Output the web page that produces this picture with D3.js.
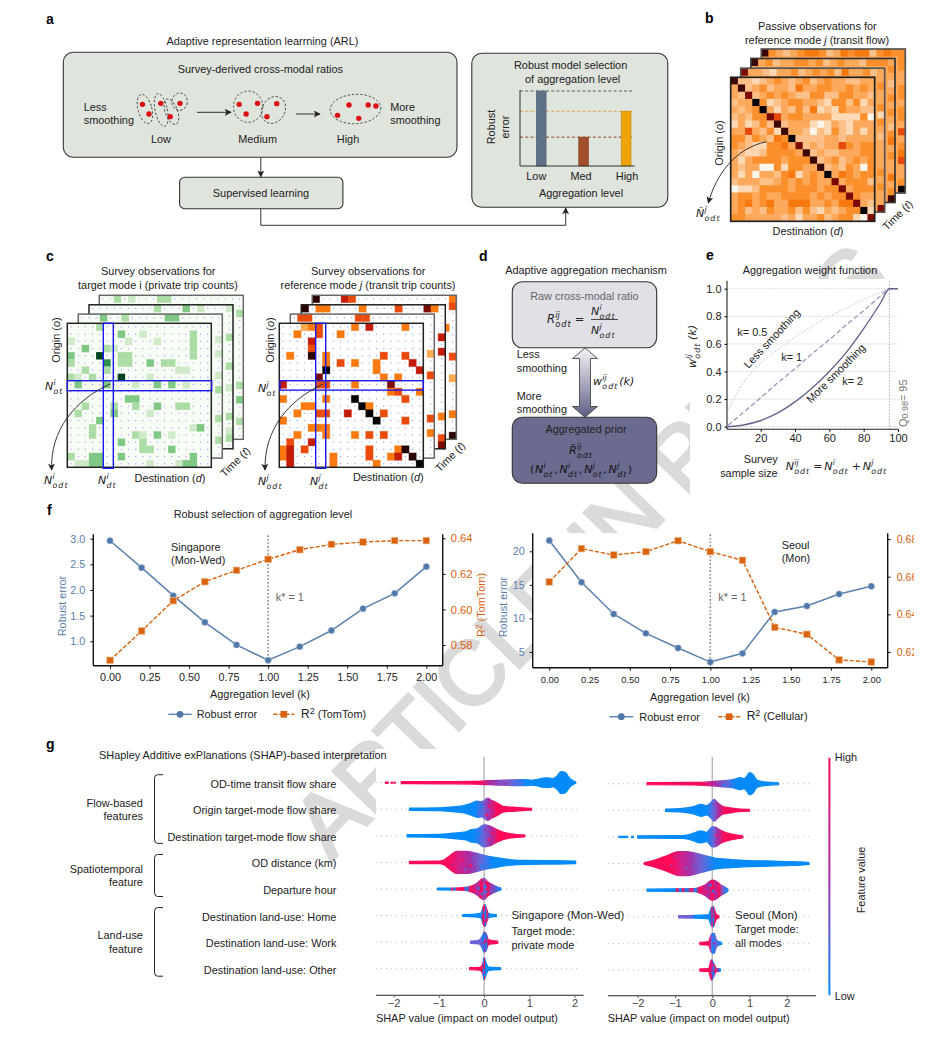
<!DOCTYPE html>
<html><head><meta charset="utf-8">
<script src="https://cdn.jsdelivr.net/npm/d3@7"></script>
<style>
html,body{margin:0;padding:0;background:#fff}
svg{display:block}
text{font-family:"Liberation Sans",Arial,sans-serif;font-size:10.9px;fill:#222}
.m{font-family:"DejaVu Sans",sans-serif;font-style:italic}
</style></head><body><div id="c"></div>
<script>
// ---------- DATA ----------
const arlBars=["Low","Med","High"], arlBarValues=[1,0.385,0.73], arlBarColors=["#5f7186","#a04f2a","#f0a30a"];
const arlStages=["Low","Medium","High"];
const arlDots=[[251,313],[296,310],[343,310],[267,342],[319,350],[488,313],[533,310],[580,311],[505,342],[556,350],[757,315],[804,315],[823,318],[729,346],[781,355]];
const arlHulls=[[257,327,17,45,-15],[297,330,15,50,-12],[342,305,19,26,10],[322,335,15,40,-20],[510,320,36,47,0],[572,330,28,42,30],[773,327,62,44,-3]];
const passiveFront=["82212343234234332233","38234233253344334343","32723434322442244332","23394123443321442413","32349313242512143322","23244763443333111140","13124282333101321333","33632418332021421313","44243254922223323333","43211445372323364344","32112444438232233344","31344443444823423434","32330041443382324304","31303324513439354344","23332234343433734442","01124444344434473444","34434334444343447433","34534533555334355732","34232433424213234491","44333332313342344107"];
const passiveTop=[["73321334234342533424","33433414323333434337"],["83423344342343324445","34323434324534335348"],["84323455423545524544","44433443443634563349"]];
const surveyFront=[[0,4,2],[1,7,3],[1,10,1],[1,17,2],[2,0,1],[2,8,1],[2,12,1],[2,17,2],[3,2,3],[3,5,2],[3,6,1],[3,17,2],[4,0,3],[4,4,5],[4,7,2],[4,8,2],[4,17,2],[5,0,2],[5,5,4],[5,7,2],[5,8,2],[5,11,3],[5,13,2],[5,14,2],[6,2,2],[6,5,2],[6,15,1],[6,16,1],[7,0,2],[7,1,1],[7,3,2],[7,7,5],[7,11,1],[8,1,3],[8,5,3],[8,9,1],[8,12,3],[8,14,3],[8,16,1],[10,8,3],[10,9,3],[11,2,2],[11,6,2],[11,9,2],[11,12,3],[11,15,2],[11,16,2],[12,1,2],[12,6,3],[12,11,1],[13,4,3],[14,3,2],[14,17,1],[14,18,3],[15,3,2],[15,9,2],[15,10,1],[15,12,3],[15,14,1],[16,7,3],[16,10,2],[17,10,2],[17,11,2],[17,14,3],[18,0,2],[18,3,3],[18,4,3],[18,7,3],[18,17,3],[19,1,1],[19,2,1],[19,3,3],[19,4,3],[19,11,1],[19,15,1],[19,16,3],[19,17,3]];
const surveyBack=[[[0,3,3],[0,6,2],[0,12,3],[0,13,3],[3,19,1],[5,19,1],[8,19,1],[10,19,2],[14,19,2],[17,19,2]],[[0,9,2],[0,13,3],[0,15,1],[0,19,1],[4,19,2],[8,19,2],[11,19,1],[15,19,2],[17,19,1],[18,19,2]],[[0,2,2],[0,4,1],[0,8,2],[0,9,2],[2,19,2],[12,19,2],[14,19,3],[17,19,2]]];
const transitFront=[[0,3,1],[0,4,2],[0,5,3],[0,10,2],[0,12,4],[0,17,2],[1,2,2],[1,5,3],[1,8,2],[2,4,4],[3,4,3],[4,1,2],[4,4,6],[4,6,2],[4,14,3],[4,17,3],[5,6,2],[5,8,3],[5,10,2],[5,13,2],[5,18,4],[6,6,7],[6,13,2],[6,19,4],[7,5,5],[7,14,2],[7,16,2],[8,0,4],[8,5,3],[8,6,3],[8,10,2],[8,15,5],[9,15,2],[9,16,3],[9,19,2],[10,0,2],[10,6,2],[10,10,7],[10,17,3],[11,3,2],[11,4,2],[11,11,7],[11,12,2],[12,2,2],[12,5,3],[12,6,3],[12,9,4],[12,12,7],[12,14,3],[13,0,2],[13,13,7],[13,17,3],[14,4,2],[14,5,2],[14,6,2],[15,2,2],[15,6,2],[15,10,2],[15,12,3],[15,14,3],[16,1,3],[16,4,4],[17,0,2],[17,1,4],[17,3,3],[17,12,3],[17,16,2],[17,17,6],[18,0,2],[18,1,4],[18,7,2],[18,12,3],[18,15,2],[18,16,4],[18,18,6],[19,1,4],[19,7,2],[19,13,2],[19,19,7]];
const transitBack=[[[0,1,3],[0,2,3],[0,9,3],[0,10,3],[5,19,1],[8,19,3],[14,19,3],[16,19,2]],[[0,0,6],[0,2,2],[0,3,2],[0,8,2],[0,13,3],[0,17,5],[0,18,2],[4,19,4],[6,19,4],[15,19,2],[18,19,3],[19,19,5]],[[0,0,6],[0,4,4],[0,5,3],[0,19,2],[1,19,3],[4,18,2],[8,19,3],[11,19,1],[16,19,2],[19,19,6]]];
const weightN=[1,10,20,30,40,50,60,70,80,90,95,100];
const weightK2=[0,0.012,0.045,0.10,0.18,0.28,0.40,0.54,0.71,0.90,1,1];
const weightK1=[0.01,0.105,0.21,0.32,0.42,0.53,0.63,0.74,0.84,0.95,1,1];
const weightK05=[0.12,0.32,0.46,0.56,0.65,0.73,0.80,0.86,0.92,0.975,1,1];
const aggLevels=[0,0.2,0.4,0.6,0.8,1,1.2,1.4,1.6,1.8,2];
const sgError=[2.96,2.435,1.89,1.37,0.93,0.63,0.896,1.21,1.636,1.935,2.455];
const sgR2=[0.5714,0.5879,0.6049,0.6156,0.622,0.6282,0.6336,0.6366,0.6379,0.6387,0.6387];
const seError=[21.6,15.4,10.66,7.78,5.6,3.5,4.8,10.96,11.85,13.64,14.8];
const seR2=[0.6572,0.6749,0.6715,0.6733,0.6791,0.6733,0.6687,0.6331,0.6294,0.6158,0.6147];
const shapFeatures=["OD-time transit flow share","Origin target-mode flow share","Destination target-mode flow share","OD distance (km)","Departure hour","Destination land-use: Home","Destination land-use: Work","Destination land-use: Other"];
const B="#058afa",P="#ff0a58",M="#a52fa6",V="#6e63d6";
const sgProfiles=[
[[-1.83,1],[-1,1.1],[-.2,1.4],[0,1.8],[.3,2.4],[.6,2.8],[.9,3],[1.05,2.4],[1.2,3.4],[1.3,4.5],[1.42,4.8],[1.52,4],[1.62,7],[1.7,11],[1.8,10],[1.88,5],[1.97,1.8],[2.02,.8]],
[[-1.65,1.1],[-1,1.4],[-.7,2.4],[-.45,3.6],[-.3,5.6],[-.15,8],[-.05,7.5],[.08,11],[.16,9],[.3,6],[.42,2.8],[.7,1.8],[1.05,.9]],
[[-1.7,1.1],[-1,1.5],[-.7,2.6],[-.4,4],[-.3,6],[-.15,7],[0,11],[.12,10],[.25,7],[.4,4],[.6,2],[.9,.9]],
[[-1.65,1.1],[-1,1.3],[-.88,2.6],[-.78,6],[-.6,11],[-.4,11],[-.2,9.5],[0,7],[.3,4.6],[.6,2.6],[1,1.9],[1.6,1.7],[2.02,1.3]],
[[-1.03,.9],[-.5,1.2],[-.28,2.8],[-.15,6],[-.08,9],[0,10.5],[.08,7],[.2,4],[.3,2],[.37,.8]],
[[-.47,.9],[-.2,1.4],[-.07,2.4],[-.02,9],[.02,11],[.06,6],[.1,2],[.27,.9]],
[[-.3,1.1],[-.12,1.8],[-.04,6],[0,10],[.05,8],[.1,2.2],[.3,1.1]],
[[-.32,1],[-.1,1.3],[-.03,5],[0,11],[.05,5],[.1,1.6],[.36,1]]];
const sgColours=[
[[-1.83,P],[-.1,P],[.15,M],[.6,V],[.95,B],[2,B]],
[[-1.65,B],[-.2,B],[0,V],[.1,M],[.28,P],[1.05,P]],
[[-1.7,B],[-.22,B],[0,V],[.15,M],[.32,P],[.9,P]],
[[-1.65,P],[-.78,P],[-.55,"#d4208a"],[-.3,M],[-.1,V],[.2,B],[2,B]],
[[-1.03,B],[-.75,B],[-.7,P],[-.65,B],[-.6,P],[-.45,P],[-.4,B],[-.3,P],[-.15,M],[-.05,P],[0,V],[.08,P],[.14,M],[.37,B]],
[[-.47,B],[-.06,B],[-.01,P],[.01,M],[.03,B],[.06,P],[.12,B],[.27,B]],
[[-.3,V],[-.07,V],[-.03,B],[.02,M],[.05,B],[.09,P],[.3,P]],
[[-.32,P],[-.06,P],[-.01,B],[.01,P],[.03,B],[.1,B],[.36,B]]];
const sgOutliers=[[0,-2.17],[0,-2.13],[0,-2.04],[0,-1.98],[3,-1.62]];
const sgSpeckle=[[0,.35,-1,V],[0,.5,1,M],[0,.8,1,V],[0,1.35,-3,B],[0,1.7,5,B],[1,-.12,4,V],[1,.02,-5,M],[1,.06,6,P],[1,.12,-3,P],[1,.2,3,M],[1,-.05,-3,B],[1,.1,1,V],[2,-.05,5,V],[2,.03,-6,M],[2,.1,4,P],[2,.18,-3,P],[2,.08,-1,V],[2,-.1,-2,B],[3,-.65,-6,P],[3,-.55,5,M],[3,-.48,-3,P],[3,-.42,7,V],[3,-.35,-7,M],[3,-.3,3,P],[3,-.25,-4,V],[3,-.2,6,M],[3,-.12,-2,V],[3,-.05,4,B],[3,-.7,2,M],[4,-.2,2,P],[4,-.1,-3,P],[4,-.05,5,B],[4,.02,-6,P],[4,.05,3,B],[4,.1,-2,P],[4,.15,2,V],[4,-.12,-1,B],[4,0,7,M],[4,-.02,-8,M],[4,-.05,0,P],[4,.03,-2,B],[5,0,-7,P],[5,.01,-3,B],[5,.02,5,P],[5,.03,1,B],[5,-.03,1,P],[6,0,-6,B],[6,-.02,1,M],[6,.03,4,B],[6,.05,-1,P],[7,0,-5,P],[7,.01,1,B],[7,.02,6,B],[7,-.02,-1,P]];
const seProfiles=[
[[-1.75,1],[-.5,1.2],[-.1,1.8],[.2,2.8],[.55,4],[.75,6],[.85,5],[.92,7],[1,11],[1.1,9],[1.2,3.6],[1.4,1.8],[1.78,.9]],
[[-1.25,1.1],[-.8,1.8],[-.5,3.6],[-.3,6],[-.15,4.6],[0,9],[.05,11],[.15,7.5],[.3,3.6],[.5,2.4],[.7,1.4],[1,.9]],
[[-2,1.1],[-.8,1.4],[-.6,2.6],[-.3,6],[-.15,4.6],[0,10],[.06,10],[.2,7],[.38,4],[.5,3],[.82,1]],
[[-1.82,.9],[-1.5,4],[-1.2,8],[-.9,12],[-.7,12],[-.4,10],[-.2,8],[0,6],[.5,4],[1,3],[1.5,2.6],[2,2],[2.35,1.6],[2.6,.9]],
[[-1.75,1],[-.5,1.4],[-.2,5],[0,10],[.1,9],[.2,6],[.35,2.8],[.42,.9]],
[[-.9,1],[-.5,1.3],[-.1,2],[-.02,9],[.03,10],[.1,3],[.18,.9]],
[[-.33,1.1],[-.1,1.8],[-.02,9],[.05,10],[.12,3],[.25,1]],
[[-.33,1],[-.1,1.4],[-.02,10],[.05,6],[.1,2],[.22,1]]];
const seColours=[
[[-1.75,P],[-.3,P],[.1,M],[.35,V],[.65,B],[1.78,B]],
[[-1.25,B],[-.15,B],[.05,V],[.15,M],[.35,P],[1,P]],
[[-2,B],[-.15,B],[.05,V],[.15,M],[.32,P],[.82,P]],
[[-1.82,P],[-1.1,P],[-.85,"#d4208a"],[-.6,M],[-.3,V],[.1,B],[2.6,B]],
[[-1.75,B],[-1,B],[-.95,P],[-.85,B],[-.78,P],[-.7,B],[-.55,P],[-.45,B],[-.35,P],[-.1,M],[0,P],[.1,M],[.17,P],[.3,V],[.42,B]],
[[-.9,V],[-.55,V],[-.45,B],[-.05,B],[0,P],[.03,B],[.07,P],[.18,P]],
[[-.33,P],[-.08,P],[-.02,V],[.04,B],[.08,V],[.25,B]],
[[-.33,P],[-.05,P],[0,M],[.04,B],[.09,P],[.22,B]]];
const seSegments=[[2,-2.52,-2.26],[2,-2.18,-2.1]];
const seSpeckle=[[0,.3,1,B],[0,.55,-2,B],[1,0,5,V],[1,.05,-6,M],[1,.1,3,V],[2,0,-6,V],[2,.08,5,M],[2,.12,-2,P],[3,-1,-7,M],[3,-.9,7,P],[3,-.8,-3,M],[3,-.7,5,V],[3,-.6,-6,M],[3,-.5,2,V],[3,-.4,-4,V],[3,-.3,4,V],[3,-1.1,2,M],[4,-.15,2,P],[4,-.05,-5,B],[4,0,6,P],[4,.05,-3,P],[4,.1,3,M],[4,.02,1,B],[4,0,-8,P],[4,.15,-1,P],[5,0,-5,P],[5,.02,3,B],[5,.04,-1,M],[6,0,-6,V],[6,.02,5,B],[6,.05,0,M],[7,.02,-5,P],[7,0,3,B],[7,.03,1,M]];
const bracketRows=[[0,2,["Flow-based","features"]],[3,4,["Spatiotemporal","feature"]],[5,7,["Land-use","feature"]]];

// ---------- SETUP ----------
const W=952,H=1038;
const svg=d3.select("#c").append("svg").attr("width",W).attr("height",H).attr("viewBox",`0 0 ${W} ${H}`);
const defs=svg.append("defs");
function marker(id,col){defs.append("marker").attr("id",id).attr("viewBox","0 0 10 10").attr("refX",9).attr("refY",5).attr("markerWidth",7).attr("markerHeight",7).attr("markerUnits","userSpaceOnUse").attr("orient","auto").append("path").attr("d","M0,0L10,5L0,10L2.5,5Z").attr("fill",col);}
marker("ah","#222");marker("ahg","#444");
const T=(g,x,y,s,o={})=>{const t=(g||svg).append("text").attr("x",x).attr("y",y).text(s).attr("dominant-baseline","central");
 if(o.a)t.attr("text-anchor",o.a);if(o.fs)t.style("font-size",o.fs+"px");if(o.fill)t.style("fill",o.fill);if(o.w)t.style("font-weight",o.w);if(o.rot!=null)t.attr("transform",`rotate(${o.rot} ${x} ${y})`);return t;};
// watermark (drawn first, beneath everything), with white plot backings above it
svg.append("text").attr("transform","translate(331,862) rotate(-45.8)").text("ARTICLE IN PRESS").style("font-size","90px").style("letter-spacing","-1px").style("fill","#dadada").style("stroke","#dadada").style("stroke-width","3px");
[[93.3,534.3,349.4,131.4],[532.7,533.3,355,134.4],[690,279,220,215],[376,749,210,246],[600,749,230,250]].forEach(r=>svg.append("rect").attr("x",r[0]).attr("y",r[1]).attr("width",r[2]).attr("height",r[3]).attr("fill","#fff"));

// math: base with stacked sup/sub; returns the right end x
function nm(g,x,y,base,sup,sub,fs=11,fill="#222",rot){
 const G=g.append("g").attr("transform",rot!=null?`rotate(${rot} ${x} ${y})`:null);
 const b=G.append("text").attr("class","m").attr("x",x).attr("y",y).style("font-size",fs+"px").style("fill",fill).text(base);
 const w=b.node().getComputedTextLength();let r=x+w;
 if(sup){const s=G.append("text").attr("class","m").attr("x",x+w+.3).attr("y",y-fs*.42).style("font-size",fs*.72+"px").style("fill",fill).text(sup);r=Math.max(r,x+w+.3+s.node().getComputedTextLength());}
 if(sub){const s=G.append("text").attr("class","m").attr("x",x+w+.3).attr("y",y+fs*.32).style("font-size",fs*.72+"px").style("letter-spacing","1px").style("fill",fill).text(sub);r=Math.max(r,x+w+.3+s.node().getComputedTextLength());}
 return r;
}
const panelLabels=[["a",46,19],["b",705,18],["c",46,256],["d",479,256],["e",706,255],["f",47,510],["g",46,744]];
panelLabels.forEach(d=>T(null,d[1],d[2],d[0],{fs:14,w:"bold",fill:"#000"}));

// ---------- PANEL A ----------
const boxFill="#dfe4dc",boxStroke="#333";
const a=svg.append("g");
const rb=(g,x0,y0,x1,y1,r,fill,st=boxStroke,sw=1.1)=>g.append("rect").attr("x",x0).attr("y",y0).attr("width",x1-x0).attr("height",y1-y0).attr("rx",r).attr("fill",fill).attr("stroke",st).attr("stroke-width",sw);
rb(a,63.3,52.3,457,157.3,10,boxFill);rb(a,471.8,53.3,667.8,207.3,10,boxFill);rb(a,179.6,177.3,342.9,208.7,5,boxFill);
T(a,262.4,41,"Adaptive representation learrning (ARL)",{a:"middle"});
T(a,260.4,69,"Survey-derived cross-modal ratios",{a:"middle"});
T(a,83.7,107,"Less");T(a,83.7,120,"smoothing");T(a,390.2,107,"More");T(a,390.2,120,"smoothing");
const stageX=[161,257.6,348];
arlStages.forEach((s,i)=>T(a,stageX[i],139,s,{a:"middle"}));
T(a,261,193,"Supervised learning",{a:"middle"});
const zx=v=>v/2.45+40,zy=v=>v/3;
a.selectAll("ellipse.h").data(arlHulls).join("ellipse").attr("cx",d=>zx(d[0])).attr("cy",d=>zy(d[1])).attr("rx",d=>d[2]/2.45).attr("ry",d=>d[3]/3).attr("transform",d=>`rotate(${d[4]} ${zx(d[0])} ${zy(d[1])})`).attr("fill","none").attr("stroke","#333").attr("stroke-width",.8).attr("stroke-dasharray","2.4 1.8");
a.selectAll("circle").data(arlDots).join("circle").attr("cx",d=>zx(d[0])).attr("cy",d=>zy(d[1])).attr("r",2.7).attr("fill","#dd0d14");
[[197,112.3,231,112.3],[296,114,320,114],[260.8,157.3,260.8,176.8]].forEach(d=>a.append("line").attr("x1",d[0]).attr("y1",d[1]).attr("x2",d[2]).attr("y2",d[3]).attr("stroke","#333").attr("stroke-width",1).attr("marker-end","url(#ah)"));
a.append("path").attr("d","M260.8,208.7V225.3H565.7V208").attr("fill","none").attr("stroke","#333").attr("stroke-width",1).attr("marker-end","url(#ah)");
const barX=d3.scalePoint(arlBars,[536.3,621.2]),barY=d3.scaleLinear([0,1],[166,91]);
arlBars.forEach((b,i)=>{a.append("line").attr("x1",520).attr("x2",633).attr("y1",barY(arlBarValues[i])).attr("y2",barY(arlBarValues[i])).attr("stroke",["#4e5f73","#8c4a2a","#dfa050"][i]).attr("stroke-width",1).attr("stroke-dasharray","3 2.2");});
a.selectAll("rect.b").data(arlBars).join("rect").attr("class","b").attr("x",d=>barX(d)).attr("width",9.8).attr("y",(d,i)=>barY(arlBarValues[i])).attr("height",(d,i)=>166-barY(arlBarValues[i])).attr("fill",(d,i)=>arlBarColors[i]).attr("stroke",(d,i)=>d3.color(arlBarColors[i]).darker(.5)).attr("stroke-width",.6);
a.append("path").attr("d","M520,90V166H634.7").attr("fill","none").attr("stroke","#333").attr("stroke-width",1);
arlBars.forEach((b,i)=>T(a,[536.3,581,627][i],176,b,{a:"middle"}));
T(a,570.6,65,"Robust model selection",{a:"middle"});T(a,572.6,79,"of aggregation level",{a:"middle"});
T(a,581,193,"Aggregation level",{a:"middle"});
T(a,491,127,"Robust",{a:"middle",rot:-90});T(a,505,127,"error",{a:"middle",rot:-90});

// ---------- GRIDS ----------
const N=20,S=144;
const hm=["#fff6ec","#fdd9b6","#fdc088","#fca95c","#fb8f2c","#f7780e","#e8480c","#7a0a00","#3c0400","#050000"];
const tc=[null,"#fdaa50","#fb7a10","#ea4a0a","#c41a08","#7a0c00","#2a0300","#000"];
const sc=[null,"#cfeac8","#acdca6","#7fc884","#2b8f4c","#00441b"];
function frame(g,x,y,st,sw){g.append("rect").attr("x",x).attr("y",y).attr("width",S).attr("height",S).attr("fill","none").attr("stroke",st).attr("stroke-width",sw);}
function passive(x0,y0,levels,st){
 const g=svg.append("g"),bx=d3.scaleBand(d3.range(N),[x0,x0+S]),by=d3.scaleBand(d3.range(N),[y0,y0+S]);
 g.append("rect").attr("x",x0).attr("y",y0).attr("width",S).attr("height",S).attr("fill",hm[3]);
 g.selectAll("rect.c").data(levels).join("rect").attr("class","c").attr("x",d=>bx(d[1])).attr("y",d=>by(d[0])).attr("width",bx.bandwidth()+.3).attr("height",by.bandwidth()+.3).attr("fill",d=>hm[d[2]]);
 frame(g,x0,y0,st,1.7);
}
const pBack=[[740.7,68.2],[751,58.5],[761.3,49]];
[2,1,0].forEach(i=>{const [tr,rc]=passiveTop[i];const lv=[...tr].map((v,c)=>[0,c,+v]).concat([...rc].map((v,r)=>[r,19,+v]));passive(pBack[i][0],pBack[i][1],lv,i==1?"#333":"#555");});
passive(730.7,77.3,passiveFront.flatMap((s,r)=>[...s].map((v,c)=>[r,c,+v])),"#222");
T(null,817.3,26,"Passive observations for",{a:"middle"});
const bt=T(null,817,40,"",{a:"middle"});bt.append("tspan").text("reference mode ");bt.append("tspan").style("font-style","italic").text("j");bt.append("tspan").text(" (transit flow)");
const axisT=(x,y,pre,it,post,rot)=>{const t=T(null,x,y,"",{a:"middle",rot});t.append("tspan").text(pre);t.append("tspan").style("font-style","italic").text(it);t.append("tspan").text(post);};
axisT(718.7,143,"Origin (","o",")",-90);axisT(808,231,"Destination (","d",")");axisT(897.3,215,"Time (","t",")",-45);
svg.append("path").attr("d","M766.7,141.7C735,148 716,175 708.3,203").attr("fill","none").attr("stroke","#222").attr("stroke-width",.9).attr("marker-end","url(#ah)");
nm(svg,696,217,"Ñ","j","odt",11);
function survey(x0,y0,cells,colors,bg,st,halo){
 const g=svg.append("g"),bx=d3.scaleBand(d3.range(N),[x0,x0+S]),by=d3.scaleBand(d3.range(N),[y0,y0+S]);
 g.append("rect").attr("x",x0).attr("y",y0).attr("width",S).attr("height",S).attr("fill",bg);
 const pts=d3.cross(d3.range(N),d3.range(N));
 g.selectAll("rect.p").data(pts).join("rect").attr("class","p").attr("x",d=>bx(d[1])+3.1).attr("y",d=>by(d[0])+3.1).attr("width",1.1).attr("height",1.1).attr("fill","#9a9af2");
 g.selectAll("rect.c").data(cells).join("rect").attr("class","c").attr("x",d=>bx(d[1])).attr("y",d=>by(d[0])).attr("width",bx.bandwidth()+.2).attr("height",by.bandwidth()+.2).attr("fill",d=>colors[d[2]]).attr("stroke",d=>halo?colors[d[2]]:"none").attr("stroke-opacity",.3).attr("stroke-width",1);
 frame(g,x0,y0,st,1.5);
}
const offs=[[11,-9.2],[21.7,-18.5],[32,-28]];
[2,1,0].forEach(i=>survey(67.3+offs[i][0],323.3+offs[i][1],surveyBack[i],sc,"#f7fcf5",i==1?"#222":"#666"));
survey(67.3,323.3,surveyFront,sc,"#f7fcf5","#222");
const offs2=[[11,-9.2],[22,-18.5],[33,-28]];
[2,1,0].forEach(i=>survey(279.3+offs2[i][0],323.3+offs2[i][1],transitBack[i],tc,"#fff",i==1?"#222":"#666",true));
survey(279.3,323.3,transitFront,tc,"#fff","#222",true);
const blue=(x,y,w,h)=>svg.append("rect").attr("x",x).attr("y",y).attr("width",w).attr("height",h).attr("fill","none").attr("stroke","#1a1af0").attr("stroke-width",1.4);
blue(67.3,380.7,144.4,10);blue(103.3,323.3,10,145);blue(280,380.7,143.3,9.4);blue(315.7,323.3,10,145);
T(null,158.3,271,"Survey observations for",{a:"middle"});T(null,158,285,"target mode i (private trip counts)",{a:"middle"});
T(null,368.3,271,"Survey observations for",{a:"middle"});
const ct=T(null,368,285,"",{a:"middle"});ct.append("tspan").text("reference mode ");ct.append("tspan").style("font-style","italic").text("j");ct.append("tspan").text(" (transit trip counts)");
axisT(56,340,"Origin (","o",")",-90);axisT(170,478,"Destination (","d",")");axisT(235,461.7,"Time (","t",")",-45);
axisT(270,340,"Origin (","o",")",-90);axisT(388.3,477,"Destination (","d",")");axisT(450,456.7,"Time (","t",")",-45);
[["M110,384C75,400 50,430 51.7,470"],["M323.3,384C288,400 264,430 265,470"]].forEach(d=>svg.append("path").attr("d",d[0]).attr("fill","none").attr("stroke","#222").attr("stroke-width",.9).attr("marker-end","url(#ah)"));
nm(svg,45,390,"N","i","ot");nm(svg,44,484,"N","i","odt");nm(svg,98,484,"N","i","dt");
nm(svg,258,392,"N","j","ot");nm(svg,258,485,"N","j","odt");nm(svg,310,485,"N","j","dt");

// ---------- PANEL D ----------
const dd=svg.append("g");
T(dd,586,270,"Adaptive aggregation mechanism",{a:"middle"});
rb(dd,512.3,281.7,656.7,347.7,10,"#e0e0e6");rb(dd,512.3,417.3,656.7,483.3,10,"#6b6b8f");
T(dd,584.3,295.7,"Raw cross-modal ratio",{a:"middle",fill:"#666"});
let rx=nm(dd,547,323,"R","ij","odt",11.5);
dd.append("text").attr("class","m").attr("x",rx+3).attr("y",323).style("font-size","11.5px").style("font-style","normal").text("=");
nm(dd,591,315,"N","i","odt",11);dd.append("line").attr("x1",591).attr("x2",618).attr("y1",319.5).attr("y2",319.5).attr("stroke","#222").attr("stroke-width",.8);nm(dd,591,334,"N","j","odt",11);
const gr=defs.append("linearGradient").attr("id","dar").attr("x1",0).attr("x2",0).attr("y1",0).attr("y2",1);
gr.append("stop").attr("offset",0).attr("stop-color","#f5f5f8");gr.append("stop").attr("offset",1).attr("stop-color","#5e5e84");
dd.append("path").attr("d","M585,348L597.5,358.5H590.5V406.5H597.5L585,417.3L572.5,406.5H579.5V358.5H572.5Z").attr("fill","url(#dar)").attr("stroke","#333").attr("stroke-width",.8);
T(dd,516.7,354,"Less");T(dd,516.7,368,"smoothing");T(dd,516.7,395.7,"More");T(dd,516.7,409,"smoothing");
const wx=nm(dd,593,385,"w","ij","odt",11);dd.append("text").attr("class","m").attr("x",wx+1).attr("y",385).style("font-size","11px").text("(k)");
T(dd,586,429.3,"Aggregated prior",{a:"middle"});
nm(dd,569,454,"R̃","ij","odt",11,"#111");
let cx=530;const ch="#111";
dd.append("text").attr("class","m").attr("x",cx).attr("y",473).style("font-size","11px").style("font-style","normal").style("fill",ch).text("(");cx+=5;
[["i","ot"],["i","dt"],["j","ot"],["j","dt"]].forEach((d,i)=>{cx=nm(dd,cx,473,"N",d[0],d[1],11,ch);dd.append("text").attr("class","m").attr("x",cx+.5).attr("y",473).style("font-size","11px").style("font-style","normal").style("fill",ch).text(i<3?",":")");cx+=i<3?6:0;});

// ---------- PANEL E ----------
const e=svg.append("g");
T(e,810,270,"Aggregation weight function",{a:"middle"});
const ex=d3.scaleLinear([20,100],[760.7,898]),ey=d3.scaleLinear([0,1],[426.7,288.7]);
[0,.2,.4,.6,.8,1].forEach(v=>e.append("line").attr("x1",727).attr("x2",898).attr("y1",ey(v)).attr("y2",ey(v)).attr("stroke","#ccc").attr("stroke-width",.8).attr("stroke-dasharray",v==0?"3 1.5":"1.5 1.2"));
e.append("line").attr("x1",ex(95)).attr("x2",ex(95)).attr("y1",281).attr("y2",429).attr("stroke","#aaa").attr("stroke-width",1).attr("stroke-dasharray","1.5 1.5");
const eLine=d3.line().x(d=>ex(d[0])).y(d=>ey(d[1])).curve(d3.curveMonotoneX);
[[weightK05,"#d8d8e2","2 1.6",1.2],[weightK1,"#9a97bb","5 2.5",1.3],[weightK2,"#66648f",null,1.4]].forEach(d=>e.append("path").attr("d",eLine(weightN.map((n,i)=>[n,d[0][i]]))).attr("fill","none").attr("stroke",d[1]).attr("stroke-width",d[3]).attr("stroke-dasharray",d[2]));
e.append("g").attr("transform","translate(0,429.3)").call(d3.axisBottom(ex).tickValues([20,40,60,80,100]).tickSize(2.5).tickSizeOuter(0)).call(g=>{g.select(".domain").attr("d","M727,0H898.3").attr("stroke","#222").attr("stroke-width",1.1);g.selectAll("text").style("font-size","11px").style("font-family",'"Liberation Sans"').attr("y",5).attr("dy",".71em");});
e.append("g").attr("transform","translate(727,0)").call(d3.axisLeft(ey).tickValues([0,.2,.4,.6,.8,1]).tickFormat(d3.format(".1f")).tickSize(2.5).tickSizeOuter(0)).call(g=>{g.select(".domain").attr("d","M0,280.7V429.3").attr("stroke","#222").attr("stroke-width",1.1);g.selectAll("text").style("font-size","11px").style("font-family",'"Liberation Sans"');});
T(e,752.3,331.7,"k= 0.5",{a:"middle"});T(e,791.7,357.3,"k= 1",{a:"middle"});T(e,852.7,381,"k= 2",{a:"middle"});
T(e,771.7,338.3,"Less smoothing",{a:"middle",rot:-47});T(e,835.7,373.3,"More smoothing",{a:"middle",rot:-45});
const qt=T(e,902.7,403.3,"Q",{a:"middle",fill:"#777",rot:-90});qt.append("tspan").text("0.98").attr("dy",2).style("font-size","9px");qt.append("tspan").text("= 95").attr("dy",-2);
nm(e,696,368,"w","ij","odt",11,"#222",-90);e.append("text").attr("class","m").attr("transform","rotate(-90 696 340)").attr("x",696).attr("y",340).style("font-size","11px").text("(k)");
T(e,777.7,459,"Survey",{a:"end"});T(e,777.7,473,"sample size",{a:"end"});
let fx=nm(e,785.7,470,"N","ij","odt",11);
e.append("text").attr("class","m").attr("x",fx+3).attr("y",470).style("font-size","11px").style("font-style","normal").text("=");fx+=14;
fx=nm(e,fx,470,"N","i","odt",11);e.append("text").attr("class","m").attr("x",fx+3).attr("y",470).style("font-size","11px").style("font-style","normal").text("+");fx+=14;
nm(e,fx,470,"N","j","odt",11);

// ---------- PANEL F ----------
const cBlue="#5a80ae",cOrange="#d9630f";
function dual(o){
 const g=svg.append("g");
 const clipId="clip"+o.id;defs.append("clipPath").attr("id",clipId).append("rect").attr("x",o.L-60).attr("y",o.T-10).attr("width",o.clipR-(o.L-60)).attr("height",o.B-o.T+30);
 const x=d3.scaleLinear([0,2],o.xr),yl=d3.scaleLinear(o.ld,o.lr),yr=d3.scaleLinear(o.rd,o.rr);
 g.append("line").attr("x1",x(1)).attr("x2",x(1)).attr("y1",o.T+1).attr("y2",o.B).attr("stroke","#888").attr("stroke-width",1.6).attr("stroke-dasharray","1.6 2");
 const lineE=d3.line().x((d,i)=>x(aggLevels[i])).y(d=>yl(d)),lineR=d3.line().x((d,i)=>x(aggLevels[i])).y(d=>yr(d));
 g.append("path").attr("d",lineE(o.err)).attr("fill","none").attr("stroke",cBlue).attr("stroke-width",1.5);
 g.selectAll("circle").data(o.err).join("circle").attr("cx",(d,i)=>x(aggLevels[i])).attr("cy",d=>yl(d)).attr("r",3.2).attr("fill","#4f78a8").attr("stroke","#a9bdd5").attr("stroke-width",.6);
 g.append("path").attr("d",lineR(o.r2)).attr("fill","none").attr("stroke",cOrange).attr("stroke-width",1.4).attr("stroke-dasharray","4.2 1.8");
 g.selectAll("rect.s").data(o.r2).join("rect").attr("class","s").attr("x",(d,i)=>x(aggLevels[i])-3.3).attr("y",d=>yr(d)-3.3).attr("width",6.6).attr("height",6.6).attr("fill","#d9630f").attr("stroke","#eeb98c").attr("stroke-width",.7);
 const styleAx=(sel,c,fs)=>{sel.select(".domain").attr("stroke","#111").attr("stroke-width",1.4);sel.selectAll(".tick line").attr("stroke","#111");sel.selectAll("text").style("font-size",fs+"px").style("font-family",'"Liberation Sans"').style("fill",c);};
 g.append("g").attr("transform",`translate(0,${o.B})`).call(d3.axisBottom(x).tickValues(d3.range(0,2.01,.25)).tickFormat(d3.format(".2f")).tickSize(3).tickPadding(o.xpad).tickSizeOuter(0)).call(s=>{s.select(".domain").attr("d",`M${o.L},0H${o.R}`);styleAx(s,"#222",o.xfs);});
 g.append("g").attr("transform",`translate(${o.L},0)`).call(d3.axisLeft(yl).tickValues(o.lt).tickFormat(o.lf).tickSize(3).tickPadding(5).tickSizeOuter(0)).call(s=>{s.select(".domain").attr("d",`M0,${o.T}V${o.B}`);styleAx(s,cBlue,10.8);});
 g.append("g").attr("clip-path",`url(#${clipId})`).append("g").attr("transform",`translate(${o.R},0)`).call(d3.axisRight(yr).tickValues(o.rt).tickFormat(d3.format(".2f")).tickSize(3).tickPadding(o.rpad).tickSizeOuter(0)).call(s=>{s.select(".domain").attr("d",`M0,${o.T}V${o.B}`);styleAx(s,cOrange,o.rfs);});
 T(g,o.elx,o.ely,"Robust error",{a:"middle",fill:cBlue,rot:-90});
 T(g,o.kx,597.3,"k* = 1",{fill:"#666"});
 T(g,o.cityX,o.city1Y,o.city[0]);T(g,o.cityX,o.city1Y+12.8,o.city[1]);
 T(g,o.xlx,o.xly,"Aggregation level (k)",{a:"middle"});
 const ly=o.legY;
 g.append("line").attr("x1",o.l1[0]).attr("x2",o.l1[1]).attr("y1",ly).attr("y2",ly).attr("stroke",cBlue).attr("stroke-width",1.4);
 g.append("circle").attr("cx",(o.l1[0]+o.l1[1])/2).attr("cy",ly).attr("r",3.4).attr("fill","#4f78a8");
 T(g,o.l1[2],ly,"Robust error");
 g.append("line").attr("x1",o.l2[0]).attr("x2",o.l2[1]).attr("y1",ly).attr("y2",ly).attr("stroke",cOrange).attr("stroke-width",1.4).attr("stroke-dasharray","4.2 1.8");
 g.append("rect").attr("x",(o.l2[0]+o.l2[1])/2-3.3).attr("y",ly-3.3).attr("width",6.6).attr("height",6.6).attr("fill","#d9630f");
 const t=T(g,o.l2[2],ly-.5,"R");t.style("font-size","12px");t.append("tspan").text("2").attr("dy",-3).style("font-size","9px");t.append("tspan").text(" "+o.leg).attr("dy",3).style("font-size","10.9px");
}
T(null,263,514.3,"Robust selection of aggregation level",{a:"middle"});
dual({id:"a",L:93.3,R:442.7,T:534.3,B:665.7,clipR:480,xr:[110,426.3],ld:[1,3],lr:[641.3,538.7],rd:[.58,.64],rr:[645,538.3],err:sgError,r2:sgR2,lt:[1,1.5,2,2.5,3],lf:d3.format(".1f"),rt:[.58,.6,.62,.64],xfs:10.8,xpad:5,rfs:11.2,rpad:5,elx:61.7,ely:606,kx:275.7,cityX:171,city1Y:546.7,city:["Singapore","(Mon-Wed)"],xlx:260,xly:694,legY:714.3,l1:[168.3,191.7,196.7],l2:[273.3,294.3,301],leg:"(TomTom)"});
dual({id:"b",L:532.7,R:887.7,T:533.3,B:667.7,clipR:914,xr:[549.3,871.3],ld:[5,20],lr:[652,551.3],rd:[.62,.68],rr:[652,539],err:seError,r2:seR2,lt:[5,10,15,20],lf:d3.format("d"),rt:[.62,.64,.66,.68],xfs:9.3,xpad:6,rfs:10.6,rpad:6,elx:502.7,ely:607,kx:718.3,cityX:781.7,city1Y:545,city:["Seoul","(Mon)"],xlx:700,xly:696.7,legY:716.7,l1:[609.3,633.3,639.3],l2:[718.3,740,746.7],leg:"(Cellular)"});
const r2l=T(null,481,605,"R",{a:"middle",fill:cOrange,rot:-90});r2l.append("tspan").text("2").attr("dy",-2).style("font-size","8.5px");r2l.append("tspan").text(" (TomTom)").attr("dy",2);

// ---------- PANEL G ----------
const g7=svg.append("g");
T(g7,99,755,"SHapley Additive exPlanations (SHAP)-based interpretation");
const rowY=d3.scalePoint(d3.range(8),[782.7,968.7]);
shapFeatures.forEach((f,i)=>T(g7,336.4,rowY(i)+1,f,{a:"end"}));
bracketRows.forEach(d=>{const y0=rowY(d[0])-8,y1=rowY(d[1])+7.5,x0=154.5,x1=163;
 g7.append("path").attr("d",`M${x1},${y0}H${x0+3}Q${x0},${y0} ${x0},${y0+4}V${y1-4}Q${x0},${y1} ${x0+3},${y1}H${x1}`).attr("fill","none").attr("stroke","#222").attr("stroke-width",1);
 const m=(y0+y1)/2;T(g7,142.9,m-6.4,d[2][0],{a:"end"});T(g7,142.9,m+6.8,d[2][1],{a:"end"});});
function swarm(o){
 const g=svg.append("g"),x=d3.scaleLinear([-2,2],o.xr);
 shapFeatures.forEach((f,i)=>g.append("line").attr("x1",o.L).attr("x2",o.R-4).attr("y1",o.ys(i)).attr("y2",o.ys(i)).attr("stroke","#bbb").attr("stroke-width",1).attr("stroke-dasharray","1 4"));
 g.append("line").attr("x1",x(0)).attr("x2",x(0)).attr("y1",756.7).attr("y2",o.axY).attr("stroke","#999").attr("stroke-width",1);
 const ar=d3.area().x(d=>x(d[0])).curve(d3.curveMonotoneX);
 o.prof.forEach((p,i)=>{
  const id=`sw${o.id}${i}`,yc=o.ys(i);
  const lg=defs.append("linearGradient").attr("id",id).attr("gradientUnits","userSpaceOnUse").attr("x1",x(p[0][0])).attr("x2",x(p[p.length-1][0])).attr("y1",0).attr("y2",0);
  const f=d3.scaleLinear([p[0][0],p[p.length-1][0]],[0,1]);
  o.col[i].forEach(c=>lg.append("stop").attr("offset",f(c[0])).attr("stop-color",c[1]));
  g.append("path").attr("d",ar.y0(d=>yc-d[1]).y1(d=>yc+d[1])(p)).attr("fill",`url(#${id})`).attr("stroke",`url(#${id})`).attr("stroke-width",1.3).attr("stroke-linejoin","round");
 });
 g.selectAll("circle.sp").data(o.sp).join("circle").attr("class","sp").attr("cx",d=>x(d[1])).attr("cy",d=>o.ys(d[0])+d[2]).attr("r",1.3).attr("fill",d=>d[3]).attr("fill-opacity",.85);
 (o.out||[]).forEach(d=>g.append("circle").attr("cx",x(d[1])).attr("cy",o.ys(d[0])).attr("r",1.3).attr("fill",P));
 (o.seg||[]).forEach(d=>g.append("line").attr("x1",x(d[1])).attr("x2",x(d[2])).attr("y1",o.ys(d[0])).attr("y2",o.ys(d[0])).attr("stroke",B).attr("stroke-width",2.4));
 g.append("g").attr("transform",`translate(0,${o.axY})`).call(d3.axisBottom(x).tickValues([-2,-1,0,1,2]).tickFormat(d3.format("d")).tickSize(2.5).tickSizeOuter(0)).call(s=>{s.select(".domain").attr("d",`M${o.L},0H${o.R}`).attr("stroke","#222").attr("stroke-width",1.1);s.selectAll("text").style("font-size","11px").style("font-family",'"Liberation Sans"').style("fill","#444").attr("y",4).attr("dy",".71em");s.selectAll(".tick line").attr("stroke","#666");});
 T(g,o.tx,1018,"SHAP value (impact on model output)",{a:"middle"});
}
swarm({id:"a",xr:[393.6,574.6],L:376,R:583.6,axY:995.3,ys:i=>rowY(i),prof:sgProfiles,col:sgColours,out:sgOutliers,sp:sgSpeckle,tx:467});
const rowY2=d3.scalePoint(d3.range(8),[783.7,970]);
swarm({id:"b",xr:[637.7,786.7],L:608,R:816,axY:995.7,ys:i=>rowY2(i),prof:seProfiles,col:seColours,seg:seSegments,sp:seSpeckle,tx:698.7});
T(g7,511.4,915,"Singapore (Mon-Wed)",{fs:11.5});T(g7,511.4,931,"Target mode:");T(g7,511.4,945,"private mode");
T(g7,735,915,"Seoul (Mon)",{fs:11.5});T(g7,735,929,"Target mode:");T(g7,735,943,"all modes");
const cg=defs.append("linearGradient").attr("id","cb").attr("x1",0).attr("x2",0).attr("y1",0).attr("y2",1);
cg.append("stop").attr("offset",0).attr("stop-color",P);cg.append("stop").attr("offset",.5).attr("stop-color",M);cg.append("stop").attr("offset",1).attr("stop-color",B);
g7.append("rect").attr("x",828.4).attr("y",757.7).attr("width",2).attr("height",237.5).attr("fill","url(#cb)");
T(g7,834.7,757,"High");T(g7,834.7,996,"Low");T(g7,860.7,880,"Feature value",{a:"middle",rot:-90});
</script></body></html>
